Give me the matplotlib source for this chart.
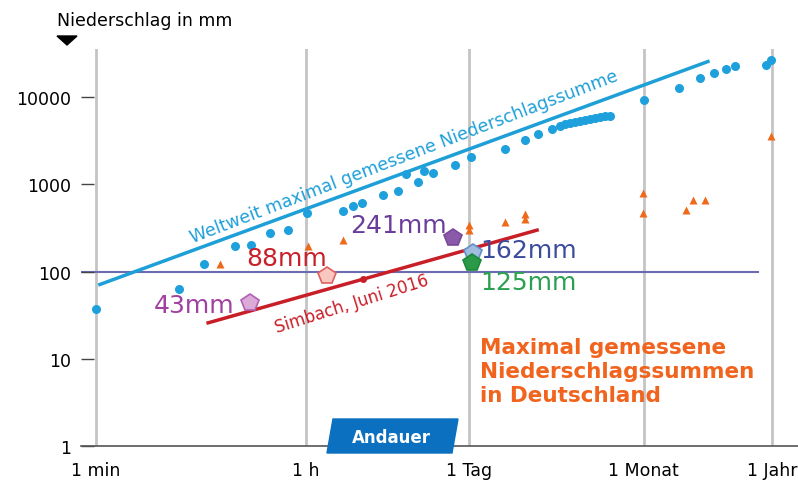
import matplotlib
matplotlib.use("Agg")
import matplotlib.pyplot as plt
from matplotlib.patches import Polygon

# Weltweite Rekorde (Dauer in Minuten, Niederschlag in mm)
world_min = [1, 5, 8.2, 15, 20.5, 30, 42, 61, 123, 150, 178, 268, 360, 421,
             531, 597, 712, 1090, 1490, 2890, 4270, 5500, 7200, 8440, 9300,
             10250, 11300, 12450, 13740, 15140, 16700, 18400, 20300, 22300,
             43250, 85500, 128800, 169000, 213700, 254700, 465700, 514000]
world_mm = [37, 63, 123, 197, 202, 276, 298, 464, 489, 557, 602, 761, 845, 1316,
            1067, 1422, 1350, 1660, 2047, 2518, 3184, 3722, 4350, 4700, 4890,
            5020, 5150, 5360, 5500, 5640, 5790, 5940, 6020, 6100,
            9250, 12640, 16400, 18670, 20700, 22390, 23000, 26900]

# Rekorde Deutschland
de_min = [11.2, 62, 123, 1435, 1435, 2890, 4270, 4270, 42500, 42500,
          98200, 112500, 142200, 514000]
de_mm = [123, 197, 230, 340, 298, 367, 452, 397, 802, 464, 502, 652, 652, 3620]

# Ausgleichsgeraden
world_fit_min = [1.08, 150700]
world_fit_mm = [71, 25500]
simbach_min = [8.9, 5400]
simbach_mm = [25.8, 298]
simbach_dot_min = [181]
simbach_dot_mm = [81]

# Einzelereignisse
event_min = [20, 90, 1050, 1550, 1520]
event_mm = [43, 88, 241, 162, 125]
event_labels = ["43mm", "88mm", "241mm", "162mm", "125mm"]

x_ticks = [1, 60, 1440, 43200, 525600]
x_labels = ["1 min", "1 h", "1 Tag", "1 Monat", "1 Jahr"]
y_ticks = [1, 10, 100, 1000, 10000]
y_labels = ["1", "10", "100", "1000", "10000"]

W, H = 798, 485


def px(x, y):
    return x / W, 1 - y / H


fig = plt.figure(figsize=(W / 100, H / 100), dpi=100)
ax = fig.add_axes([81 / W, 38 / H, 717 / W, 397 / H])
ax.set_xscale("log")
ax.set_yscale("log")
ax.set_xlim(0.748, 8.71e5)
ax.set_ylim(1, 3.55e4)

for s in ["left", "top", "right"]:
    ax.spines[s].set_visible(False)
ax.spines["bottom"].set_color("#555555")
ax.spines["bottom"].set_linewidth(1.2)

ax.set_xticks(x_ticks)
ax.set_xticklabels(x_labels)
ax.set_yticks(y_ticks)
ax.set_yticklabels(y_labels)
ax.minorticks_off()
ax.tick_params(axis="x", length=0, pad=11, labelsize=12.5)
ax.tick_params(axis="y", direction="in", length=9, width=1, color="#444444",
               pad=7, labelsize=12.5)

for t in x_ticks:
    ax.axvline(t, color="#c4c4c4", lw=2, zorder=0)

# 100 mm Linie
ax.plot([0.748, 4.0e5], [100, 100], color="#6b6bb2", lw=1.5, zorder=1)

ax.plot(world_fit_min, world_fit_mm, color="#1e9fd8", lw=2.5, zorder=2)
ax.plot(world_min, world_mm, "o", color="#1ea0dc", ms=6.5, mec="none", zorder=3)
ax.plot(de_min, de_mm, "^", color="#ee6a1a", ms=6, mec="none", zorder=3)

ax.plot(simbach_min, simbach_mm, color="#c81e28", lw=2.5, zorder=4)
ax.plot(simbach_dot_min, simbach_dot_mm, "o", color="#c81e28", ms=4, zorder=4)

face = ["#dcaad8", "#f8c8c0", "#8a5aaa", "#a0bce0", "#2a9a48"]
edge = ["#b060b0", "#e06060", "#7a4a9a", "#6090c8", "#1a8a38"]
for i in range(len(event_min)):
    ax.plot(event_min[i], event_mm[i], "p", ms=13, mfc=face[i], mec=edge[i],
            mew=1.2, zorder=5)

label_color = ["#a040a0", "#c8202a", "#6a3d9a", "#3c4c9c", "#2aa050"]
label_off = [(-15, -9), (0, 11), (-6, 6), (7, -4), (8, -26)]
label_ha = ["right", "right", "right", "left", "left"]
for i in range(len(event_labels)):
    ax.annotate(event_labels[i], (event_min[i], event_mm[i]),
                xytext=label_off[i], textcoords="offset pixels",
                ha=label_ha[i], va="baseline", fontsize=18,
                color=label_color[i], zorder=6)

fig.text(*px(193, 243), "Weltweit maximal gemessene Niederschlagssumme",
         rotation=20.9, rotation_mode="anchor", ha="left", va="baseline",
         fontsize=12.5, color="#1e9fd8")
fig.text(*px(277, 333), "Simbach, Juni 2016", rotation=17.5,
         rotation_mode="anchor", ha="left", va="baseline", fontsize=12,
         color="#c81e28")

fig.text(*px(480, 338), "Maximal gemessene\nNiederschlagssummen\nin Deutschland",
         ha="left", va="top", fontsize=15.5, fontweight="bold",
         color="#f0641e", linespacing=1.25)

# Achsentitel mit Pfeil
fig.text(*px(57, 26), "Niederschlag in mm", ha="left", va="baseline",
         fontsize=12.5, color="black")
fig.add_artist(Polygon([px(57, 37), px(77, 37), px(67, 46)], closed=True,
                       color="black", transform=fig.transFigure))

# Andauer-Feld
fig.add_artist(Polygon([px(333, 420), px(458, 420), px(452, 454), px(327, 454)],
                       closed=True, color="#0a70bf", transform=fig.transFigure,
                       zorder=10))
fig.text(*px(391, 438), "Andauer", ha="center", va="center", fontsize=12,
         fontweight="bold", color="white", zorder=11)

fig.savefig("out.png", dpi=100)
